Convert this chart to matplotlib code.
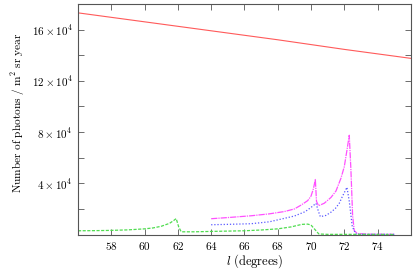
import numpy as np
import matplotlib
matplotlib.use("Agg")
import matplotlib.pyplot as plt
from matplotlib.ticker import FixedLocator, FuncFormatter

# -------------------------------
# DATA (y in units of 1e4 photons / m^2 sr year)
# -------------------------------
SCALE = 1e4

red_l = [56, 60, 64, 68, 72, 76]
red_n = [17.3, 16.6, 15.9, 15.2, 14.45, 13.75]

mag_l = [64.0, 65.0, 66.4, 67.5, 68.4, 69.0, 69.4, 69.8, 70.0, 70.15, 70.26,
         70.33, 70.45, 70.8, 71.2, 71.5, 71.8, 72.0, 72.15, 72.3, 72.4,
         72.5, 72.6, 72.8, 73.5, 75.0]
mag_n = [1.24, 1.33, 1.47, 1.62, 1.8, 2.0, 2.3, 2.65, 3.0, 3.6, 4.3,
         2.6, 2.25, 2.45, 2.9, 3.4, 4.4, 5.3, 6.5, 7.75, 5.0,
         1.5, 0.3, 0.08, 0.03, 0.02]

blue_l = [64.0, 65.0, 66.4, 67.5, 68.4, 69.0, 69.65, 70.06, 70.3, 70.45,
          70.56, 70.9, 71.2, 71.47, 71.7, 71.88, 72.05, 72.16, 72.3,
          72.48, 72.7, 73.0, 75.0]
blue_n = [0.77, 0.8, 0.85, 1.0, 1.27, 1.45, 1.79, 2.18, 2.44, 1.8,
          1.40, 1.5, 1.75, 2.05, 2.45, 2.96, 3.4, 3.69, 2.6,
          0.62, 0.05, 0.02, 0.02]

green_l = [56.0, 57.0, 58.0, 59.0, 60.0, 60.5, 61.0, 61.5, 61.75, 61.9,
           62.05, 62.2, 63.0, 64.0, 66.0, 67.0, 68.0, 68.8, 69.45, 69.8,
           70.0, 70.2, 70.47, 71.0, 72.0, 73.0, 75.0]
green_n = [0.30, 0.31, 0.33, 0.37, 0.45, 0.52, 0.65, 0.88, 1.1, 1.25,
           0.6, 0.22, 0.22, 0.25, 0.3, 0.36, 0.45, 0.6, 0.8, 0.82,
           0.75, 0.45, 0.05, 0.02, 0.02, 0.02, 0.01]

xticks = [58, 60, 62, 64, 66, 68, 70, 72, 74]
yticks_major = [4, 8, 12, 16]
yticks_minor = [2, 6, 10, 14]

# -------------------------------
# PLOT
# -------------------------------
plt.rcParams["mathtext.fontset"] = "cm"
plt.rcParams["font.family"] = "serif"
plt.rcParams["font.serif"] = ["DejaVu Serif"]

fig = plt.figure(figsize=(4.15, 2.77), dpi=100)
ax = fig.add_axes([0.188, 0.153, 0.802, 0.833])

ax.plot(red_l, np.array(red_n) * SCALE, color="#ff5a5a", lw=0.8, ls="-")
ax.plot(mag_l, np.array(mag_n) * SCALE, color="#ff50ff", lw=0.9,
        dashes=(5, 0.8, 1, 0.8))
ax.plot(blue_l, np.array(blue_n) * SCALE, color="#5a5aff", lw=0.9,
        dashes=(1, 1.5))
ax.plot(green_l, np.array(green_n) * SCALE, color="#4fdc4f", lw=0.9,
        dashes=(2.5, 1.2))

ax.set_xlim(56, 76)
ax.set_ylim(0, 18 * SCALE)

ax.set_xticks(xticks)
ax.set_xticklabels([r"$%d$" % t for t in xticks])
ax.yaxis.set_major_locator(FixedLocator([t * SCALE for t in yticks_major]))
ax.yaxis.set_minor_locator(FixedLocator([t * SCALE for t in yticks_minor]))
ax.yaxis.set_major_formatter(
    FuncFormatter(lambda v, p: r"$%d \times 10^4$" % round(v / SCALE)))

for side in ax.spines.values():
    side.set_color("#555555")
    side.set_linewidth(0.8)
ax.tick_params(which="both", direction="in", top=True, right=True,
               length=4, width=0.6, color="#555555", labelsize=8, pad=4)
ax.tick_params(which="minor", length=4)

ax.set_xlabel(r"$l\ \mathrm{(degrees)}$", fontsize=9)
ax.xaxis.set_label_coords(0.53, -0.075)
ax.set_ylabel(r"$\mathrm{Number\ of\ photons\ /\ m^2\ sr\ year}$", fontsize=8.2)
ax.yaxis.set_label_coords(-0.152, 0.53)

plt.savefig("out.png", dpi=100)
